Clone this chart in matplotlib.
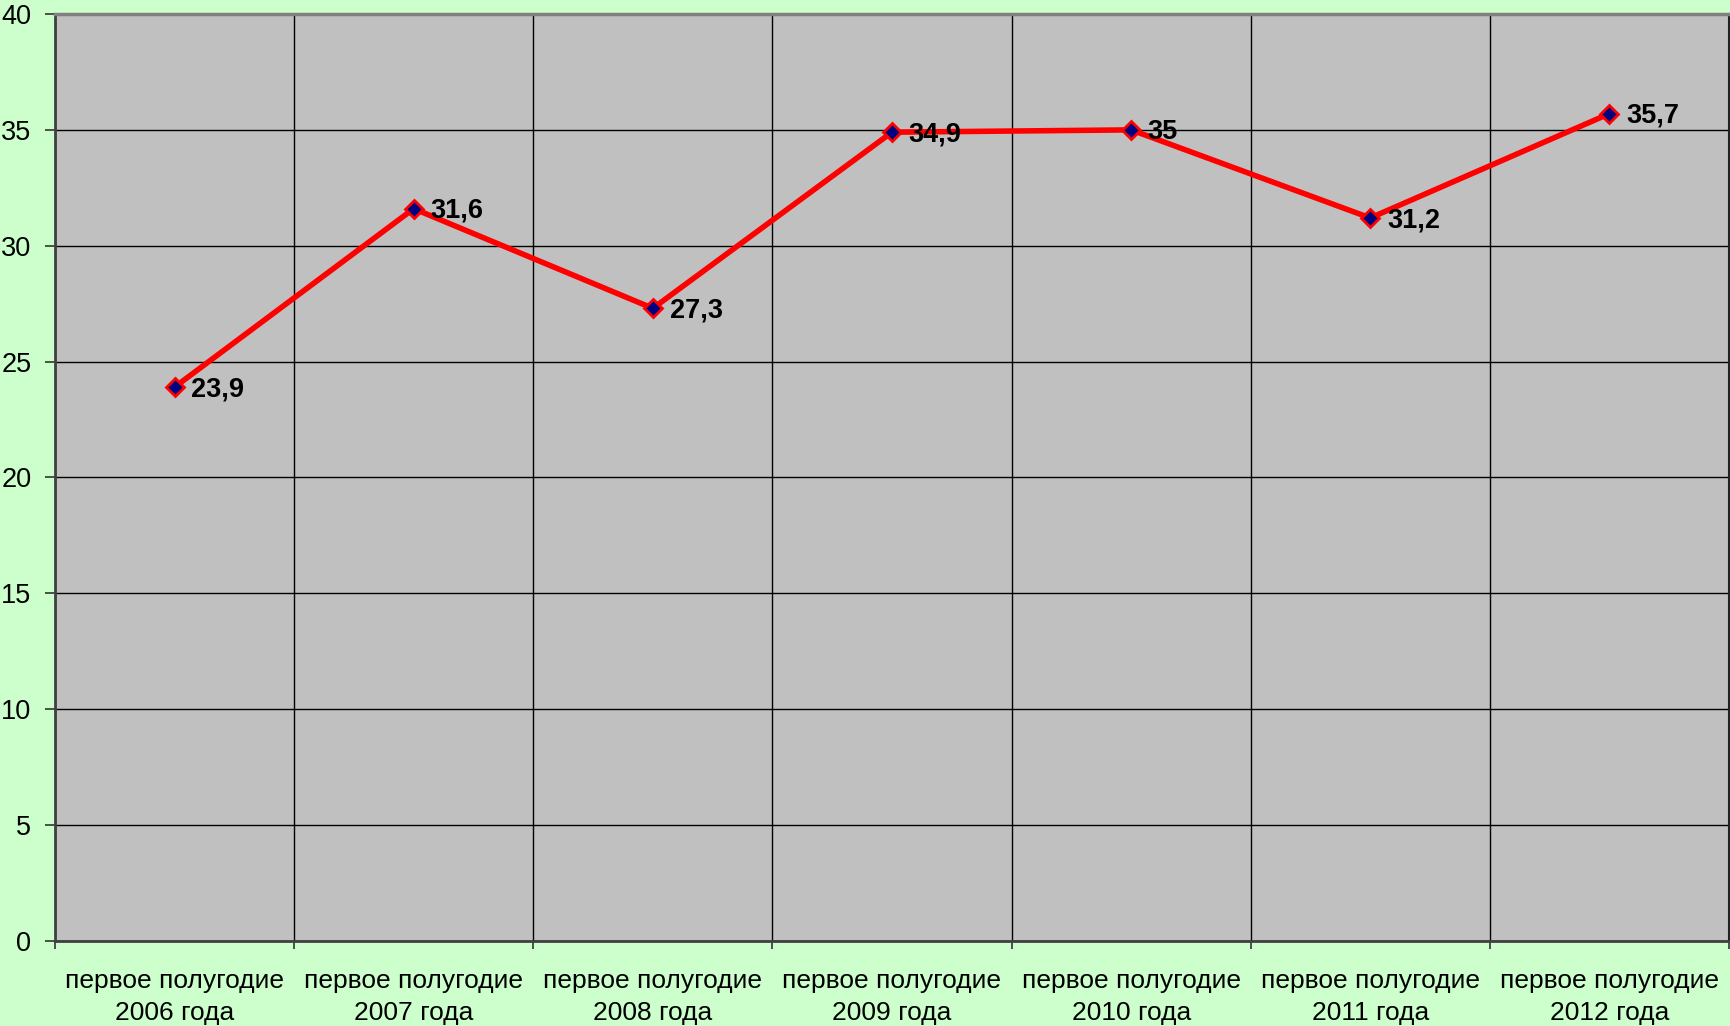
import matplotlib
matplotlib.use("Agg")
import matplotlib.pyplot as plt
import numpy as np

categories = ["первое полугодие\n2006 года", "первое полугодие\n2007 года",
              "первое полугодие\n2008 года", "первое полугодие\n2009 года",
              "первое полугодие\n2010 года", "первое полугодие\n2011 года",
              "первое полугодие\n2012 года"]
values = [23.9, 31.6, 27.3, 34.9, 35, 31.2, 35.7]
value_labels = ["23,9", "31,6", "27,3", "34,9", "35", "31,2", "35,7"]
yticks = [0, 5, 10, 15, 20, 25, 30, 35, 40]

plt.rcParams['font.family'] = ['Liberation Sans', 'DejaVu Sans']

fig = plt.figure(figsize=(17.31, 10.26), dpi=100)
fig.patch.set_facecolor('#CCFFCC')
ax = fig.add_axes([55/1731, 1 - 941/1026, (1729-55)/1731, (941-14)/1026])
ax.set_facecolor('#C0C0C0')

x = np.arange(len(categories))
ax.plot(x, values, color='#FF0000', lw=4.0, marker='D', markersize=9,
        markerfacecolor='#000080', markeredgecolor='#FF0000', markeredgewidth=2.0,
        zorder=3, solid_joinstyle='miter')
for xi, v, lab in zip(x, values, value_labels):
    ax.annotate(lab, (xi, v), xytext=(12, -1.5), textcoords='offset points',
                ha='left', va='center', fontsize=19.5, fontweight='bold', color='black', zorder=4)

ax.set_xlim(-0.5, len(categories) - 0.5)
ax.set_ylim(0, 40)
ax.set_yticks(yticks)
ax.set_yticklabels([str(t) for t in yticks])
ax.set_xticks(np.arange(len(categories) + 1) - 0.5)
ax.set_xticklabels([])
ax.set_xticks(x, minor=True)
ax.set_xticklabels(categories, minor=True, fontsize=19, linespacing=1.42)
ax.tick_params(axis='x', which='minor', length=0, pad=20)
ax.tick_params(axis='x', which='major', length=6, width=1.2, color='#333333', direction='out')
ax.tick_params(axis='y', length=7, width=1.2, color='#333333', direction='out', labelsize=19.5, pad=10)

ax.grid(True, which='major', color='#000000', lw=1.0)
ax.set_axisbelow(True)

ax.spines['top'].set_color('#808080')
ax.spines['top'].set_linewidth(2.5)
ax.spines['left'].set_color('#404040')
ax.spines['left'].set_linewidth(2)
ax.spines['bottom'].set_color('#404040')
ax.spines['bottom'].set_linewidth(2)
ax.spines['right'].set_color('#222222')
ax.spines['right'].set_linewidth(1.5)

fig.savefig('out.png', dpi=100, facecolor=fig.get_facecolor())
